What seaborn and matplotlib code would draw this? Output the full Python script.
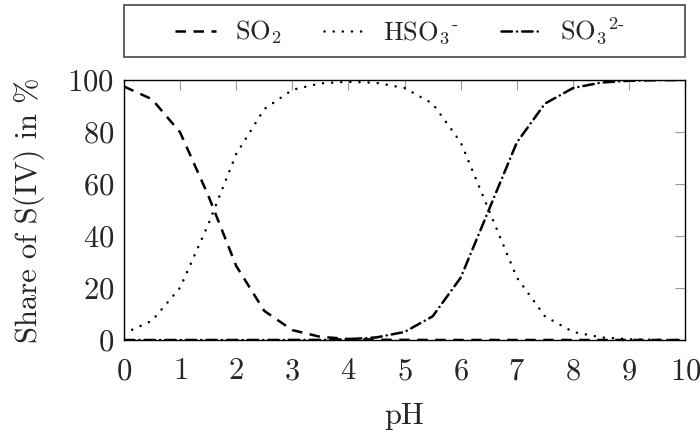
#### Speciation of S(IV) over pH

import pandas as pd
import numpy as np
import matplotlib as mpl
import matplotlib.pyplot as plt
import seaborn as sns

ph = [0, 0.5, 1, 1.5, 2, 2.5, 3, 3.5, 4, 4.5, 5, 5.5, 6, 6.5, 7, 7.5, 8, 8.5, 9, 9.5, 10]
so2 = [97.5, 92.6, 79.9, 55.7, 28.5, 11.2, 3.8, 1.2, 0.4, 0.1, 0.04, 0.01, 0, 0, 0, 0, 0, 0, 0, 0, 0]
hso3 = [2.5, 7.4, 20.1, 44.3, 71.5, 88.8, 96.2, 98.7, 99.3, 98.9, 96.9, 90.9, 76.0, 50.0, 24.0, 9.1, 3.1, 1.0, 0.3, 0.1, 0.03]
so3 = [0, 0, 0, 0, 0, 0, 0.03, 0.03, 0.3, 1.0, 3.1, 9.1, 24.0, 50.0, 76.0, 90.9, 96.9, 99.0, 99.7, 99.9, 99.97]

labels = ['SO$_2$', 'HSO$_3$$^{\\text{-}}$', 'SO$_3$$^{\\text{2-}}$']
series = [so2, hso3, so3]
styles = [(0, (4.2, 3.0)), (0, (0.05, 3.6)), (0, (4.2, 2.0, 0.05, 2.0))]
caps = ['butt', 'round', 'round']

sns.set_theme(style='white')
plt.rcParams['font.family'] = ['cmr10', 'DejaVu Serif']
plt.rcParams['mathtext.fontset'] = 'cm'
plt.rcParams['axes.formatter.use_mathtext'] = True

fig = plt.figure(figsize=(7, 4.37), dpi=100)
ax = fig.add_axes([0.177, 0.222, 0.802, 0.595])

for lab, vals, ls, cap in zip(labels, series, styles, caps):
    df = pd.DataFrame({'pH': ph, 'share': vals})
    sns.lineplot(data=df, x='pH', y='share', ax=ax, color='black', linewidth=1.8,
                 linestyle=ls, dash_capstyle=cap, label=lab)

ax.set_xlim(0, 10)
ax.set_ylim(0, 100)
ax.set_xticks(range(0, 11))
ax.set_yticks([0, 20, 40, 60, 80, 100])
ax.tick_params(direction='in', top=True, right=True, color='#999999', length=7,
               width=0.8, labelsize=22)
ax.tick_params(axis='x', pad=13)
ax.tick_params(axis='y', pad=7)
for s in ax.spines.values():
    s.set_color('black')
    s.set_linewidth(1.0)
ax.set_xlabel('pH', fontsize=22, labelpad=12)
ax.set_ylabel('Share of S(IV) in %', fontsize=22, labelpad=16)

# legend box spans the full axes width, entries centred inside it
box = mpl.patches.Rectangle((0, 1.088), 1, 0.2, transform=ax.transAxes, fill=False,
                            edgecolor='#555555', linewidth=1.3, clip_on=False)
ax.add_patch(box)
leg = ax.legend(loc='center', bbox_to_anchor=(0.492, 1.188), ncol=3, frameon=False,
                fontsize=19, handlelength=1.55, borderaxespad=0, columnspacing=1.6,
                handletextpad=0.7, borderpad=0)

plt.savefig('out.png', dpi=100)
